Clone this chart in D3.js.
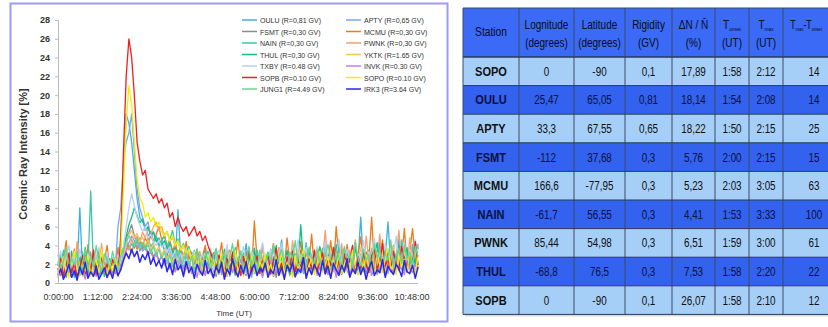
<!DOCTYPE html>
<html><head><meta charset="utf-8">
<script src="https://cdn.jsdelivr.net/npm/d3@7"></script>
<style>body{margin:0;background:#fff}svg{display:block}</style>
</head><body><svg id="c" width="828" height="327"></svg>
<script>
// ---------- chart data (5-minute samples from 0:00 to 11:00 UT) ----------
const minutes = d3.range(0, 661, 5);
const seriesNames = ["OULU","APTY","FSMT","MCMU","NAIN","PWNK","THUL","YKTK","TXBY","INVK","SOPB","SOPO","JUNG1","IRK3"];
const seriesLabels = ["OULU (R=0,81 GV)","APTY (R=0,65 GV)","FSMT (R=0,30 GV)","MCMU (R=0,30 GV)","NAIN (R=0,30 GV)","PWNK (R=0,30 GV)","THUL (R=0,30 GV)","YKTK (R=1.65 GV)","TXBY (R=0.48 GV)","INVK (R=0.30 GV)","SOPB (R=0.10 GV)","SOPO (R=0.10 GV)","JUNG1 (R=4.49 GV)","IRK3 (R=3.64 GV)"];
const seriesColors = ["#3fb0e0","#7aa6f0","#8c8c8c","#f07a1a","#3cc8a0","#f5a070","#10c080","#f8c060","#b8d0f5","#c080e0","#f02020","#f0f000","#60d890","#2828f0"];

const OULU = [2.1,1.0,3.2,0.8,1.9,2.6,0.6,1.4,8.0,1.2,2.4,0.9,1.8,3.0,1.1,0.7,2.2,1.6,0.9,
2.0,1.3,1.5,2.0,5.0,12.0,18.0,17.0,15.0,12.0,9.0,7.0,6.5,6.0,5.0,5.5,4.5,5.0,4.0,
4.5,3.5,4.0,3.0,3.6,2.4,7.8,2.8,1.6,3.4,2.2,1.4,3.0,2.0,1.2,2.8,3.6,1.5,2.4,
1.8,3.2,0.9,2.5,1.4,3.8,2.0,1.1,2.9,1.6,0.8,2.3,4.2,1.5,2.6,1.0,3.1,1.9,0.7,
2.7,1.3,3.6,2.1,0.9,2.8,4.6,1.7,2.4,1.2,3.3,2.0,1.0,2.9,1.5,3.9,2.2,1.1,2.6,
1.4,3.5,2.0,4.4,1.3,2.7,1.8,3.0,0.9,2.4,3.7,1.6,2.8,1.2,4.0,2.3,7.0,1.9,3.2,
2.5,1.1,3.6,2.0,4.3,1.5,2.9,6.5,1.8,3.3,2.2,4.7,1.4,2.6,3.8,1.7,4.1,2.4,3.0];
const APTY = [1.2,2.4,0.7,1.8,3.0,1.1,2.2,0.9,2.7,1.5,0.6,2.0,3.3,1.4,0.8,2.5,1.7,1.0,2.9,
1.3,2.1,1.6,6.0,8.0,13.0,15.0,16.0,18.0,14.0,10.0,8.0,7.0,6.0,6.5,5.0,5.5,4.5,4.0,
4.5,3.5,3.0,3.8,2.6,3.2,2.0,2.9,1.5,3.4,2.1,1.2,2.7,3.6,1.8,0.9,2.5,1.6,3.1,
2.2,0.8,1.9,3.0,1.3,2.6,0.7,2.1,3.5,1.4,2.4,1.0,2.8,1.7,0.6,3.2,2.0,1.2,2.5,
1.5,3.1,0.9,2.3,1.6,3.7,1.1,2.6,1.9,0.8,2.9,1.4,3.4,2.1,1.0,2.5,1.8,3.0,1.2,
2.7,1.5,3.3,0.9,2.2,1.7,3.8,1.3,2.4,1.0,2.9,2.0,1.4,3.5,1.8,2.6,1.1,3.1,2.3,
1.6,3.0,1.2,2.5,3.6,1.4,2.2,1.0,3.3,2.7,1.5,2.0,3.9,1.3,2.6,1.8,3.4,1.1,2.4];
const FSMT = [0.9,2.0,1.4,0.6,2.6,1.2,1.8,0.8,2.2,1.5,3.0,1.0,1.6,0.7,2.4,1.3,0.9,2.1,1.4,
1.0,2.3,1.2,1.7,1.4,3.5,4.8,5.4,6.2,5.0,4.4,4.8,3.6,4.1,3.2,3.7,2.8,3.3,2.4,
2.9,2.0,3.1,1.6,2.5,1.2,2.8,1.9,0.8,2.3,1.5,3.0,1.1,2.0,1.4,2.7,0.9,1.8,2.4,
1.3,0.7,2.2,1.6,3.0,1.0,1.9,2.6,0.8,1.5,2.3,1.1,3.3,1.8,0.9,2.5,1.4,2.0,1.2,
2.8,1.0,1.7,2.4,0.6,1.9,3.1,1.3,2.2,0.9,1.6,2.7,1.2,3.5,1.5,0.8,2.3,1.7,2.9,
1.1,2.0,3.2,1.4,0.9,2.5,1.8,2.9,1.2,3.6,1.5,2.1,0.8,2.7,1.9,1.3,3.0,2.2,1.0,
2.4,1.6,3.1,0.9,2.0,2.8,1.3,3.4,1.8,1.0,2.6,3.7,1.5,2.2,1.1,2.9,2.0,3.2,1.6];
const MCMU = [1.6,0.8,2.4,4.5,1.3,2.0,3.6,0.9,1.8,2.9,1.2,4.1,1.5,0.7,2.6,3.4,1.1,2.2,4.0,
1.4,2.7,1.0,3.8,1.9,2.5,3.4,4.0,3.2,4.3,3.6,4.5,3.9,4.8,4.2,5.0,4.4,5.2,6.0,
4.6,5.0,3.9,4.6,3.4,4.2,3.1,3.8,2.7,4.4,2.5,3.3,2.0,3.6,1.8,2.9,4.0,1.6,2.5,
3.2,1.4,2.6,4.3,1.2,2.8,3.5,1.7,2.3,4.6,1.5,3.0,2.1,3.7,1.3,6.6,2.4,1.9,3.9,
1.6,3.0,2.2,4.2,1.4,2.7,3.5,1.8,4.8,2.0,3.1,1.3,2.6,4.4,1.7,3.3,2.1,5.2,1.5,
2.8,3.9,1.6,3.2,2.3,4.5,1.4,6.0,2.6,3.4,1.8,4.1,2.2,3.6,1.5,2.9,4.9,2.0,3.3,
2.4,7.0,1.9,3.5,2.7,4.6,1.6,3.2,2.5,4.0,1.8,3.6,2.3,5.8,2.0,3.4,5.8,2.6,3.9];
const NAIN = [2.3,1.2,3.5,0.9,1.7,2.8,1.4,0.7,2.5,3.3,1.1,1.9,9.8,1.5,2.6,0.8,3.0,1.6,2.2,
1.0,2.4,1.7,2.9,3.3,3.8,4.6,3.5,4.2,3.7,4.5,3.4,4.1,3.6,4.8,3.9,4.3,5.0,3.8,
4.4,5.2,3.9,4.6,5.6,4.0,4.7,3.6,4.2,3.3,3.9,2.8,3.5,2.4,3.1,1.9,2.7,3.4,1.6,
2.5,3.6,1.3,2.2,3.1,0.9,2.7,1.8,3.8,1.4,2.4,3.2,1.1,2.0,2.9,1.5,3.5,2.3,1.2,
3.0,1.7,2.6,4.0,1.3,2.2,3.4,1.9,2.8,1.0,3.6,2.4,1.5,3.1,2.0,4.3,1.6,2.7,3.3,
1.4,2.5,3.7,1.8,2.9,1.2,3.3,2.1,4.1,1.6,2.6,3.5,1.1,2.3,3.9,1.7,2.8,3.2,1.5,
3.4,2.0,4.4,1.6,2.8,3.6,1.3,2.5,4.0,1.9,3.1,2.4,4.6,1.4,3.3,2.2,3.8,1.8,4.2];
const PWNK = [1.0,2.6,1.5,3.4,0.8,2.0,1.3,4.4,1.7,0.9,2.8,1.4,2.2,3.6,1.0,1.8,4.2,1.2,2.5,
1.6,0.9,2.7,1.4,2.2,3.2,4.0,3.6,4.6,4.1,5.0,4.4,5.4,4.8,5.8,5.2,6.0,6.5,5.6,
6.0,5.0,5.5,4.4,4.9,3.8,4.5,3.3,4.0,2.9,3.6,2.4,3.2,2.0,3.4,1.7,2.6,3.0,1.4,
2.3,3.5,1.1,2.8,1.6,3.9,2.1,1.3,3.2,2.5,0.9,2.9,1.8,3.6,1.2,2.4,3.0,1.5,4.1,
2.0,1.2,3.3,2.6,1.5,3.8,1.0,2.4,3.1,1.7,4.5,2.2,1.3,3.0,2.7,1.6,3.5,1.9,2.8,
3.6,1.4,2.5,5.6,1.8,2.9,1.2,3.4,2.2,4.2,1.6,2.7,3.5,1.3,4.6,2.0,3.1,1.7,5.0,
2.3,3.7,1.5,2.8,5.2,1.9,3.3,2.4,4.1,1.4,3.0,5.6,2.2,3.6,1.7,4.8,2.5,3.2,1.9];
const THUL = [1.8,3.1,1.0,2.2,1.5,3.4,0.8,2.0,2.7,1.3,3.8,1.6,0.9,2.4,1.2,3.0,2.1,0.7,1.9,
2.6,1.1,1.8,2.3,1.6,3.5,5.0,6.2,7.0,8.0,7.2,6.4,6.8,5.6,6.0,5.0,5.4,4.4,4.8,
4.0,4.5,3.6,4.2,3.1,3.8,2.7,3.4,2.2,3.0,1.8,2.6,3.3,1.5,2.4,1.1,2.9,2.0,1.4,
3.2,1.7,2.5,1.0,3.6,2.2,1.4,2.8,0.9,2.3,3.4,1.5,2.0,2.9,1.2,3.7,1.8,2.6,1.1,
2.4,3.3,1.6,2.1,4.0,1.3,2.7,1.9,3.5,1.0,2.5,3.1,1.5,6.2,2.2,1.4,3.6,2.0,2.9,
1.7,3.8,2.4,1.2,3.0,2.6,1.5,4.1,1.9,2.8,1.1,3.4,2.3,1.6,3.9,2.5,1.3,3.2,2.0,
3.5,1.8,2.9,4.3,1.4,2.6,3.7,2.0,1.5,3.3,2.4,4.0,1.7,2.8,3.6,1.2,3.0,2.1,3.8];
const YKTK = [0.6,1.8,1.1,2.5,0.9,1.5,3.2,1.0,2.1,0.7,1.6,2.8,1.3,0.8,2.3,1.4,3.0,1.1,1.7,
0.9,2.2,1.3,1.9,1.5,2.8,4.2,5.0,5.6,4.8,5.3,4.4,4.9,4.0,4.6,3.6,4.2,3.3,3.9,
3.0,3.6,2.6,3.2,2.2,2.9,1.8,2.5,3.1,1.5,2.3,1.2,2.7,1.9,0.9,2.4,1.6,3.0,1.3,
2.0,1.1,2.6,1.7,0.8,2.3,3.3,1.4,2.0,1.0,2.9,1.6,2.4,0.9,3.1,1.8,1.2,2.6,2.0,
1.3,2.7,1.9,0.7,2.4,3.4,1.2,2.0,1.6,2.8,1.0,2.3,3.6,1.5,2.1,0.9,2.9,1.7,2.4,
1.1,3.0,1.8,2.5,1.3,3.5,2.2,0.9,2.7,1.6,3.3,2.0,1.4,2.9,1.0,2.4,3.8,1.5,2.6,
2.0,1.2,3.1,2.4,1.6,3.6,1.0,2.7,2.1,3.9,1.4,2.5,1.8,3.2,2.3,1.1,2.8,3.4,1.7];
const TXBY = [2.0,3.4,1.3,2.6,4.0,1.7,2.9,1.1,3.6,2.2,1.5,3.1,2.4,1.0,2.8,3.8,1.6,2.3,3.3,
1.8,2.7,1.2,3.0,2.1,3.9,6.0,8.0,9.5,8.2,7.0,6.2,5.5,6.0,4.8,5.2,4.4,4.0,4.6,
3.8,4.2,3.3,3.9,2.8,3.5,2.4,3.2,2.0,3.6,1.7,2.9,3.4,1.5,2.6,3.1,1.8,2.5,3.7,
1.4,2.9,3.5,1.9,2.4,4.1,1.6,2.8,3.2,1.3,2.6,3.9,2.0,1.5,3.4,2.7,1.8,3.0,4.3,
2.2,1.6,3.6,2.5,1.4,3.1,4.2,2.0,2.9,1.7,3.5,2.3,4.6,1.9,2.6,3.8,1.5,3.2,2.4,
3.9,1.8,2.7,4.4,2.1,3.3,1.6,3.0,4.7,2.3,1.9,3.6,2.5,4.0,1.7,3.1,2.6,4.5,2.0,
3.4,2.2,4.8,1.8,3.0,2.5,4.2,1.6,3.7,2.9,5.0,2.1,3.3,4.4,1.9,3.6,2.7,4.6,3.2];
const INVK = [0.5,1.4,0.9,2.0,1.2,0.6,1.7,2.4,0.8,1.3,0.4,1.9,1.1,2.6,0.7,1.5,1.0,2.2,0.6,
1.6,0.9,1.3,0.7,1.8,2.6,3.5,4.3,5.0,4.5,3.8,4.2,3.4,3.7,3.0,3.3,2.6,3.0,2.3,
2.8,1.9,2.4,1.5,2.1,1.2,1.8,2.5,0.9,1.6,2.2,1.0,1.7,0.6,2.0,1.3,0.8,1.9,1.1,
0.5,1.6,2.3,0.9,1.4,0.7,2.0,1.2,1.8,0.6,2.5,1.1,0.8,1.7,1.3,2.1,0.9,1.5,0.6,
1.9,1.0,2.4,0.7,1.5,1.2,2.0,0.8,1.7,2.6,1.1,0.6,1.8,1.3,2.2,0.9,1.6,1.0,2.3,
0.8,1.7,1.2,2.5,0.9,1.4,2.1,0.6,1.8,1.1,2.7,1.3,0.7,1.9,1.5,0.9,2.3,1.2,1.6,
2.0,0.8,1.5,2.8,1.1,1.7,0.7,2.2,1.4,1.0,2.6,1.3,1.8,0.9,2.4,1.6,1.1,2.0,1.4];
const SOPB = [1.4,2.6,0.8,1.9,3.2,1.1,2.2,0.7,1.6,2.9,1.0,2.4,1.3,3.5,0.9,1.8,2.7,1.2,2.0,
1.0,2.5,1.6,1.5,4.0,14.0,22.0,26.0,24.0,20.0,15.0,13.0,11.5,12.0,10.0,9.5,9.0,9.5,8.5,
9.0,8.0,8.5,7.0,7.5,6.0,7.0,6.0,5.5,6.0,5.0,5.5,6.0,5.0,5.5,4.5,5.0,4.0,3.2,
2.4,1.3,3.0,1.8,0.9,2.6,1.5,3.3,1.1,2.2,0.8,2.8,1.6,3.6,1.2,2.0,2.9,1.0,2.5,
1.7,3.1,1.0,2.4,3.7,1.4,2.1,0.9,2.8,1.6,3.4,1.2,2.3,1.8,3.0,0.8,2.6,1.5,3.5,
1.3,2.2,3.2,1.0,2.7,1.9,3.8,1.4,2.4,0.9,3.1,1.7,2.5,4.0,1.2,2.8,1.6,3.3,2.0,
1.1,2.9,3.6,1.5,2.3,4.2,1.8,2.6,1.2,3.4,2.0,1.4,3.9,2.5,1.7,3.1,2.2,4.4,1.9];
const SOPO = [0.9,1.7,2.8,1.2,0.6,2.3,3.4,1.5,0.8,2.0,1.3,3.0,0.7,1.9,2.5,1.1,3.6,1.4,0.9,
2.2,1.3,2.6,1.2,3.0,10.0,17.0,21.0,19.0,15.0,11.0,9.0,8.5,7.0,7.5,6.5,7.0,6.0,6.5,
5.5,5.0,5.5,4.5,5.0,4.0,4.5,3.5,4.0,3.0,3.6,2.4,3.1,1.8,2.7,1.2,2.2,3.0,1.5,
2.6,1.0,1.9,3.2,1.4,0.8,2.4,1.7,3.5,1.1,2.1,0.7,2.8,1.5,3.0,1.2,0.9,2.3,1.6,
3.1,1.3,2.0,0.8,2.7,1.6,3.3,1.0,2.2,1.8,0.6,2.9,1.4,2.4,3.6,1.1,1.8,2.6,0.9,
2.1,3.4,1.2,1.9,2.8,0.8,2.4,1.5,3.1,1.0,2.0,2.7,1.3,3.5,1.7,0.9,2.5,1.4,3.0,
1.6,2.3,0.8,3.2,1.9,1.1,2.7,3.7,1.4,2.1,0.9,3.0,1.7,2.5,1.2,3.4,2.0,1.0,2.8];
const JUNG1 = [3.0,1.6,2.4,3.8,1.2,2.7,1.9,3.3,0.9,2.1,3.6,1.4,2.8,1.7,4.0,2.2,1.1,3.1,2.5,
1.5,3.4,2.0,1.3,2.9,3.6,4.4,5.0,4.6,4.0,4.8,3.8,4.3,3.5,4.1,3.2,3.9,2.9,3.6,
2.6,3.3,2.1,3.0,1.7,2.7,3.5,1.5,2.4,3.2,1.9,2.8,1.3,3.6,2.3,1.8,3.1,2.5,1.4,
2.9,3.7,1.6,2.4,3.3,1.2,2.7,4.2,1.9,2.5,3.4,1.4,2.2,3.9,1.8,2.9,1.1,3.5,2.6,
1.7,3.2,2.4,4.0,1.5,2.8,3.6,2.0,1.3,3.3,2.6,4.5,1.8,2.3,3.1,1.6,3.8,2.7,1.9,
3.5,2.2,1.4,3.0,4.1,2.5,1.7,3.4,2.8,1.5,3.9,2.3,3.1,1.8,4.4,2.6,1.9,3.6,2.4,
3.0,1.6,4.2,2.7,3.5,1.9,3.1,2.4,4.6,1.7,2.9,3.7,2.1,4.0,2.6,3.3,1.8,3.9,2.8];
const IRK3 = [0.8,1.5,0.4,1.1,2.0,0.6,1.3,0.3,1.7,0.9,2.2,0.5,1.2,0.7,1.8,0.4,1.0,1.6,0.6,
1.3,0.5,1.9,0.8,1.4,2.4,3.2,2.6,3.6,2.8,3.4,2.2,3.0,2.5,3.3,2.0,2.7,1.8,2.4,
1.6,2.6,1.2,2.1,0.9,2.5,1.4,1.9,0.7,2.3,1.1,1.7,0.5,2.0,1.3,0.8,2.4,1.0,1.5,
0.6,1.8,1.1,2.2,0.4,1.5,0.9,2.6,1.3,0.7,1.9,1.0,2.3,0.5,1.4,2.0,0.8,1.6,1.2,
2.1,0.6,1.4,1.0,2.5,0.8,1.7,0.4,1.9,1.2,2.2,0.7,1.5,1.1,2.7,0.5,1.6,0.9,2.0,
1.3,0.7,2.4,1.0,1.8,0.5,2.1,1.4,0.8,1.9,1.2,2.6,0.6,1.5,1.0,2.2,0.9,1.7,0.4,
1.6,2.3,0.8,1.4,1.1,2.5,0.6,1.8,1.3,0.9,2.0,1.5,0.7,2.4,1.2,1.0,1.9,0.5,1.7];
const seriesValues = [OULU,APTY,FSMT,MCMU,NAIN,PWNK,THUL,YKTK,TXBY,INVK,SOPB,SOPO,JUNG1,IRK3];

const yTicks = [0,2,4,6,8,10,12,14,16,18,20,22,24,26,28];
const xTickMinutes = [0,72,144,216,288,360,432,504,576,648];
const xTickLabels = ["0:00:00","1:12:00","2:24:00","3:36:00","4:48:00","6:00:00","7:12:00","8:24:00","9:36:00","10:48:00"];

// ---------- table data ----------
const tStations = ["SOPO","OULU","APTY","FSMT","MCMU","NAIN","PWNK","THUL","SOPB"];
const tLongitude = ["0","25,47","33,3","-112","166,6","-61,7","85,44","-68,8","0"];
const tLatitude = ["-90","65,05","67,55","37,68","-77,95","56,55","54,98","76,5","-90"];
const tRigidity = ["0,1","0,81","0,65","0,3","0,3","0,3","0,3","0,3","0,1"];
const tDeltaN = ["17,89","18,14","18,22","5,76","5,23","4,41","6,51","7,53","26,07"];
const tOnset = ["1:58","1:54","1:50","2:00","2:03","1:53","1:59","1:58","1:58"];
const tMax = ["2:12","2:08","2:15","2:15","3:05","3:33","3:00","2:20","2:10"];
const tDiff = ["14","14","25","15","63","100","61","22","12"];

const svg = d3.select("#c");
const FS = "Liberation Sans, Arial, sans-serif";

// ---------- left panel ----------
svg.append("rect").attr("x",10.5).attr("y",3.5).attr("width",437).attr("height",318)
  .attr("fill","#fff").attr("stroke","#9c9cf2").attr("stroke-width",2);

const x = d3.scaleLinear().domain([0,660]).range([58,418]);
const y = d3.scaleLinear().domain([0,28]).range([283,20]);

const lineGen = d3.line().x((d,i)=>x(minutes[i])).y(d=>y(d));
const gLines = svg.append("g");
seriesValues.forEach((vals,k)=>{
  gLines.append("path").datum(vals).attr("d",lineGen)
    .attr("fill","none").attr("stroke",seriesColors[k]).attr("stroke-width",k===13?1.5:1.3)
    .attr("stroke-linejoin","round");
});

const yAxis = svg.append("g").attr("transform","translate(58,0)")
  .call(d3.axisLeft(y).tickValues(yTicks).tickSize(3).tickPadding(5));
yAxis.select(".domain").attr("stroke","#bbb");
yAxis.selectAll(".tick line").attr("stroke","#bbb");
yAxis.selectAll("text").attr("font-family",FS).attr("font-size",9)
  .attr("font-weight","bold").attr("fill","#333");

const xAxis = svg.append("g").attr("transform","translate(0,283)")
  .call(d3.axisBottom(x).tickValues(xTickMinutes).tickFormat((d,i)=>xTickLabels[i]).tickSize(0).tickPadding(11));
xAxis.select(".domain").attr("stroke","#bbb").attr("d","M58,0.5H418");
xAxis.selectAll("text").attr("font-family",FS).attr("font-size",9).attr("fill","#333");

svg.append("text").attr("transform","translate(27,154) rotate(-90)").attr("text-anchor","middle")
  .attr("font-family",FS).attr("font-size",11).attr("font-weight","bold")
  .attr("fill","#333").text("Cosmic Ray Intensity [%]");
svg.append("text").attr("x",234).attr("y",316).attr("text-anchor","middle")
  .attr("font-family",FS).attr("font-size",8).attr("fill","#333").text("Time (UT)");

// legend
const legRowY = d3.scaleLinear().domain([0,6]).range([20,89]);
seriesLabels.forEach((lab,k)=>{
  const col = k%2, row = Math.floor(k/2);
  const lx = col===0 ? 242 : 346;
  const g = svg.append("g");
  g.append("line").attr("x1",lx).attr("x2",lx+15).attr("y1",legRowY(row)).attr("y2",legRowY(row))
    .attr("stroke",seriesColors[k]).attr("stroke-width",1.5);
  g.append("text").attr("transform",`translate(${lx+18},${legRowY(row)+3}) scale(0.88,1)`).attr("font-family",FS)
    .attr("font-size",8).attr("fill","#333").text(lab);
});

// ---------- table ----------
const colEdges = [463,519,574,625,672,715,749,783,857];
const headerTop = 8, headerBot = 57, rowH = 28.6;
const tbl = svg.append("g");
tbl.append("rect").attr("x",465).attr("y",headerTop+2).attr("width",400).attr("height",headerBot-headerTop+rowH*9).attr("fill","#d8d8d8");
tbl.append("rect").attr("x",colEdges[0]).attr("y",headerTop).attr("width",colEdges[8]-colEdges[0]).attr("height",headerBot-headerTop).attr("fill","#3a6af6");
tStations.forEach((s,r)=>{
  tbl.append("rect").attr("x",colEdges[0]).attr("y",headerBot+r*rowH).attr("width",colEdges[8]-colEdges[0]).attr("height",rowH)
    .attr("fill", r%2===0 ? "#a6cff8" : "#3262ee");
});
colEdges.slice(1,8).forEach(cx=>{
  tbl.append("line").attr("x1",cx).attr("x2",cx).attr("y1",headerTop).attr("y2",headerBot+9*rowH).attr("stroke","#3b4b66").attr("stroke-width",1);
});
for(let r=0;r<=9;r++){
  tbl.append("line").attr("x1",colEdges[0]).attr("x2",colEdges[8]).attr("y1",headerBot+r*rowH).attr("y2",headerBot+r*rowH)
    .attr("stroke","#2a3a5a").attr("stroke-width",r===0?1.5:1);
}
tbl.append("line").attr("x1",colEdges[0]).attr("x2",colEdges[8]).attr("y1",headerTop).attr("y2",headerTop).attr("stroke","#3b4b66");
tbl.append("line").attr("x1",colEdges[0]).attr("x2",colEdges[0]).attr("y1",headerTop).attr("y2",headerBot+9*rowH).attr("stroke","#3b4b66");

const cc = i => (colEdges[i]+colEdges[i+1])/2;
function ctext(cx, yy, size, sx, fill, weight){
  return tbl.append("text").attr("transform",`translate(${cx},${yy}) scale(${sx},1)`).attr("text-anchor","middle")
    .attr("font-family",FS).attr("font-size",size).attr("font-weight",weight||"normal").attr("fill",fill);
}
const HC = "#0a0a20";
ctext(cc(0),36,12.5,0.82,HC).text("Station");
[["Lognitude","(degrees)"],["Latitude","(degrees)"],["Rigidity","(GV)"],["ΔN / N̄","(%)"]].forEach((p,j)=>{
  ctext(cc(j+1),29,12.5,0.8,HC).text(p[0]);
  ctext(cc(j+1),47,12.5,0.8,HC).text(p[1]);
});
function subT(cx, sx, parts){
  const t = ctext(cx,29,12.5,sx,HC);
  parts.forEach(p=>{
    if(p.sub) t.append("tspan").attr("font-size",6).attr("dy",2).text(p.t);
    else t.append("tspan").attr("font-size",12.5).attr("dy",p.up?-2:0).text(p.t);
  });
}
subT(cc(5),0.8,[{t:"T"},{t:"onset",sub:true}]); ctext(cc(5),47,12.5,0.8,HC).text("(UT)");
subT(cc(6),0.8,[{t:"T"},{t:"max",sub:true}]); ctext(cc(6),47,12.5,0.8,HC).text("(UT)");
subT(806,0.7,[{t:"T"},{t:"max",sub:true},{t:"-T",up:true},{t:"onset",sub:true}]);

const cols = [tStations,tLongitude,tLatitude,tRigidity,tDeltaN,tOnset,tMax,tDiff];
tStations.forEach((s,r)=>{
  const yy = headerBot + r*rowH + rowH/2 + 4.5;
  cols.forEach((arr,i)=>{
    const fill = r%2===0 ? "#111" : "#0a1040";
    if(i===0) ctext(cc(i),yy,13,0.85,fill,"bold").text(arr[r]);
    else ctext(i===7?814:cc(i),yy,13,0.76,fill).text(arr[r]);
  });
});
</script></body></html>
